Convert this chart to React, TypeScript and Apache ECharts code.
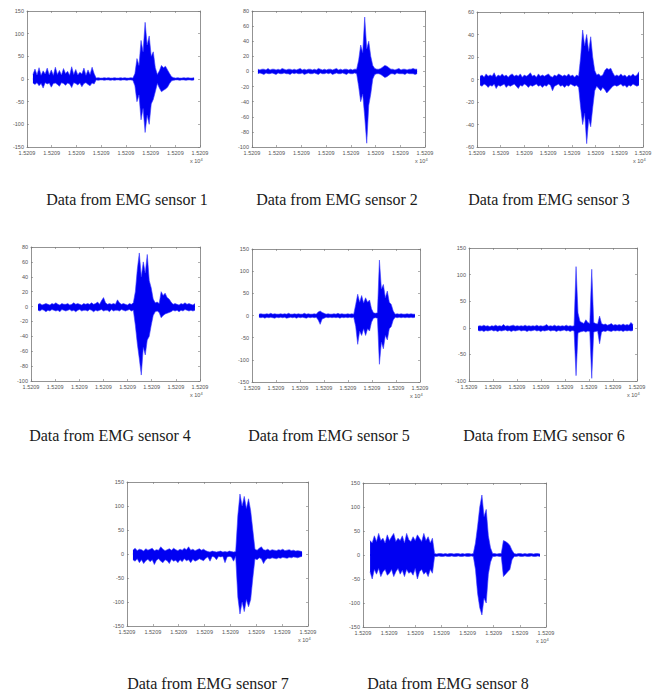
import React, { useEffect, useRef } from "react";
import * as echarts from "echarts";

const captions = [
  "Data from EMG sensor 1", "Data from EMG sensor 2", "Data from EMG sensor 3",
  "Data from EMG sensor 4", "Data from EMG sensor 5", "Data from EMG sensor 6",
  "Data from EMG sensor 7", "Data from EMG sensor 8",
];
const xTickLabel = "1.5209";
const yMin = [-150, -100, -60, -100, -150, -100, -150, -150];
const yMax = [150, 80, 60, 80, 150, 150, 150, 150];
const yStep = [50, 20, 20, 20, 50, 50, 50, 50];
const tStart = [0.24, 0.24, 0.13, 0.29, 0.29, 0.375, 0.23, 0.27];
const tEnd = [6.76, 6.68, 6.83, 6.79, 6.79, 6.83, 6.77, 6.77];

// upper / lower envelopes of each EMG signal
const hi1 = [10,22,9,25,8,18,11,24,9,20,8,26,10,19,9,23,12,17,8,27,10,21,9,15,11,24,8,20,10,26,12,
  2,3,2,2,3,2,3,2,2,3,2,2,3,2,3,2,2,3,2,
  12,45,30,85,60,125,75,95,50,60,25,10,
  18,30,25,28,20,12,5,
  3,2,3,2,2,3,2,3,2,2,3];
const lo1 = [-9,-12,-8,-15,-10,-20,-8,-11,-9,-18,-10,-9,-12,-16,-8,-10,-14,-9,-11,-19,-8,-10,-13,-9,-17,-10,-8,-12,-15,-9,-11,
  -2,-3,-2,-2,-3,-2,-2,-3,-2,-3,-2,-2,-3,-2,-2,-3,-2,-2,-3,
  -15,-50,-35,-90,-65,-118,-80,-100,-55,-45,-28,-10,
  -20,-28,-25,-22,-18,-10,-4,
  -3,-2,-2,-3,-2,-2,-3,-2,-2,-3,-2];

const hi2 = [3,2,3,3,2,4,2,3,3,2,3,2,4,3,2,3,3,2,3,2,3,4,2,3,2,3,3,2,3,2,4,3,2,3,2,3,3,2,3,4,2,3,2,3,3,2,3,2,3,3,
  15,35,25,72,30,40,20,8,
  4,3,3,4,
  6,8,7,5,
  3,3,2,3,4,2,3,3,2,3,3,4,3,3];
const lo2 = [-3,-2,-3,-4,-2,-3,-3,-2,-3,-4,-2,-3,-3,-2,-3,-3,-4,-2,-3,-2,-3,-3,-2,-4,-3,-2,-3,-3,-2,-3,-4,-2,-3,-3,-2,-3,-2,-4,-3,-2,-3,-3,-2,-3,-4,-2,-3,-3,-2,-3,
  -20,-40,-30,-60,-95,-45,-30,-10,
  -4,-3,-3,-4,
  -6,-8,-7,-5,
  -3,-3,-4,-2,-3,-3,-3,-4,-2,-3,-3,-3,-4,-3];

const hi3 = [3,4,2,5,3,4,3,6,2,4,3,5,3,4,2,4,5,3,4,3,5,2,4,3,4,6,3,4,2,5,3,4,3,4,5,3,2,4,3,5,4,3,4,3,5,3,4,2,4,3,
  20,44,30,40,25,38,20,8,
  4,5,3,4,
  8,10,9,10,6,
  3,4,3,5,3,4,2,4,3,5,3,4,7];
const lo3 = [-5,-6,-4,-5,-7,-5,-6,-4,-8,-5,-6,-5,-4,-7,-5,-6,-5,-4,-6,-8,-5,-6,-4,-5,-7,-5,-6,-5,-4,-6,-5,-7,-5,-6,-4,-5,-10,-6,-5,-4,-6,-5,-7,-5,-6,-4,-5,-6,-5,-7,
  -25,-40,-30,-57,-35,-42,-25,-10,
  -6,-8,-10,-7,
  -9,-12,-10,-8,-6,
  -5,-6,-5,-4,-6,-5,-7,-5,-6,-4,-5,-6,-5];

const hi4 = [3,4,2,3,4,3,2,4,3,5,3,2,4,3,3,4,2,3,5,3,4,3,2,4,3,4,3,5,3,4,6,3,8,12,5,3,4,3,4,3,9,5,3,4,3,2,4,3,5,
  20,50,72,40,60,45,70,35,25,10,
  5,6,4,
  20,15,18,12,10,6,
  3,4,3,2,4,3,5,3,4,3,2,4];
const lo4 = [-5,-6,-4,-5,-7,-5,-6,-4,-5,-6,-5,-7,-4,-5,-6,-5,-4,-6,-5,-7,-5,-4,-6,-5,-5,-6,-4,-5,-7,-5,-6,-5,-4,-6,-5,-5,-7,-4,-6,-5,-5,-6,-4,-5,-6,-5,-4,-6,-5,
  -25,-50,-70,-92,-55,-65,-45,-40,-25,-12,
  -7,-6,-8,
  -15,-12,-10,-9,-8,-7,
  -5,-6,-5,-7,-5,-6,-4,-5,-6,-5,-6,-5];

const hi5 = [3,4,3,3,4,3,5,3,4,3,3,4,3,4,3,5,3,3,4,3,4,3,3,5,3,4,3,3,4,3,
  8,10,7,5,
  3,4,3,3,4,3,5,3,4,3,3,4,3,4,3,
  25,48,30,45,28,40,30,35,15,
  6,5,6,
  125,60,70,40,55,30,25,10,
  3,4,3,4,3,3,4,3,4,3,3];
const lo5 = [-4,-5,-4,-6,-4,-5,-4,-5,-6,-4,-5,-4,-5,-4,-6,-5,-4,-5,-4,-6,-4,-5,-4,-5,-6,-4,-5,-4,-5,-4,
  -10,-20,-8,-6,
  -4,-5,-4,-5,-4,-5,-4,-6,-4,-5,-4,-5,-4,-5,-4,
  -25,-65,-35,-45,-30,-45,-30,-35,-15,
  -6,-5,-6,
  -110,-60,-75,-45,-55,-30,-25,-10,
  -4,-5,-4,-5,-4,-5,-4,-5,-4,-5,-4];

const hi6 = [3,4,3,5,3,4,2,4,3,5,3,4,3,6,3,4,3,4,5,3,4,3,4,3,5,3,4,3,4,3,5,3,4,3,4,6,3,4,3,5,3,4,3,4,3,5,3,4,3,4,
  115,
  28,12,10,8,15,10,8,
  110,
  10,8,7,22,8,6,7,5,6,8,5,6,5,6,5,7,5,6,5,10,6];
const lo6 = [-5,-6,-5,-7,-5,-6,-5,-4,-6,-5,-7,-5,-6,-5,-4,-6,-5,-7,-5,-6,-5,-4,-6,-5,-5,-7,-5,-6,-5,-4,-6,-5,-7,-5,-6,-5,-4,-6,-5,-5,-7,-5,-6,-5,-4,-6,-5,-7,-5,-6,
  -90,
  -10,-8,-7,-6,-8,-6,-7,
  -95,
  -8,-7,-6,-30,-8,-6,-7,-5,-6,-7,-5,-6,-5,-6,-5,-7,-5,-6,-5,-6,-5];

const hi7 = [8,12,7,10,9,6,11,8,10,12,7,9,8,15,10,7,9,11,8,12,9,7,10,8,12,9,15,8,10,7,9,11,8,10,7,
  5,4,6,5,4,5,6,4,5,4,6,5,4,5,
  80,125,100,120,95,115,90,50,
  10,8,12,15,9,8,10,7,9,8,7,9,8,10,7,8,9,7,8,6,7,6,5];
const lo7 = [-12,-15,-10,-18,-12,-20,-14,-11,-16,-12,-22,-13,-10,-15,-18,-12,-14,-20,-11,-15,-13,-18,-12,-16,-10,-14,-12,-18,-11,-15,-13,-10,-12,-14,-9,
  -6,-15,-5,-6,-12,-5,-6,-5,-18,-6,-5,-6,-15,-5,
  -90,-125,-100,-120,-95,-110,-95,-50,
  -10,-12,-8,-10,-20,-12,-9,-10,-8,-9,-10,-8,-9,-7,-8,-9,-7,-8,-6,-7,-8,-6,-5];

const hi8 = [30,25,40,28,45,30,35,25,42,30,38,45,28,35,30,40,25,45,32,28,38,30,42,35,28,45,30,38,25,35,
  3,2,3,3,2,3,2,3,3,2,3,3,2,3,2,3,3,2,3,
  25,60,100,125,80,95,40,15,
  3,3,2,3,3,
  30,28,25,20,10,
  3,2,3,3,2,3,2,3,3,2,3,3,2];
const lo8 = [-35,-50,-30,-40,-28,-45,-35,-30,-42,-38,-30,-45,-35,-28,-40,-32,-45,-30,-38,-35,-42,-28,-50,-35,-30,-40,-35,-45,-30,-38,
  -3,-3,-2,-3,-3,-2,-3,-3,-2,-3,-3,-2,-3,-3,-2,-3,-3,-2,-3,
  -30,-80,-110,-125,-90,-100,-40,-15,
  -3,-3,-2,-3,-3,
  -45,-40,-35,-30,-10,
  -3,-3,-2,-3,-3,-2,-3,-3,-2,-3,-3,-2,-3];

const highs = [hi1, hi2, hi3, hi4, hi5, hi6, hi7, hi8];
const lows = [lo1, lo2, lo3, lo4, lo5, lo6, lo7, lo8];

// layout (pixels)
const grids = [
  { left: 27, top: 11, width: 173, height: 136 },
  { left: 252, top: 11, width: 173, height: 136 },
  { left: 477, top: 12, width: 166, height: 135 },
  { left: 31, top: 247, width: 169, height: 134 },
  { left: 252, top: 249, width: 168, height: 133 },
  { left: 469, top: 248, width: 168, height: 133 },
  { left: 127, top: 482, width: 181, height: 144 },
  { left: 363, top: 483, width: 183, height: 144 },
];
const captionPos = [
  [127, 199], [337, 199], [549, 199],
  [110, 435], [329, 435], [544, 435],
  [208, 683], [448, 683],
];

export default function App() {
  const ref = useRef<HTMLDivElement>(null);
  useEffect(() => {
    document.body.style.margin = "0";
    const chart = echarts.init(ref.current!, null, { renderer: "svg" });
    const tickStyle = { fontSize: 5.5, color: "#555", fontFamily: "Arial, Liberation Sans, sans-serif" };
    const axLine = { show: true, onZero: false, lineStyle: { color: "#777", width: 0.8 } };
    const axTick = { show: true, inside: true, length: 2, lineStyle: { color: "#777", width: 0.6 } };
    const xAxis: any[] = [];
    const yAxis: any[] = [];
    const series: any[] = [];
    const graphic: any[] = [];
    grids.forEach((g, k) => {
      xAxis.push({
        gridIndex: k, type: "value", min: 0, max: 7, interval: 1, position: "bottom",
        axisLine: axLine, axisTick: axTick,
        axisLabel: { ...tickStyle, margin: 3, formatter: () => xTickLabel, showMinLabel: true, showMaxLabel: true },
        splitLine: { show: false },
      });
      xAxis.push({
        gridIndex: k, type: "value", min: 0, max: 7, interval: 1, position: "top",
        axisLine: axLine, axisTick: axTick, axisLabel: { show: false }, splitLine: { show: false },
      });
      yAxis.push({
        gridIndex: k, type: "value", min: yMin[k], max: yMax[k], interval: yStep[k], position: "left",
        axisLine: axLine, axisTick: axTick, axisLabel: { ...tickStyle, margin: 3 }, splitLine: { show: false },
      });
      yAxis.push({
        gridIndex: k, type: "value", min: yMin[k], max: yMax[k], interval: yStep[k], position: "right",
        axisLine: axLine, axisTick: axTick, axisLabel: { show: false }, splitLine: { show: false },
      });
      const overlap = yStep[k] / 25;
      [highs[k], lows[k]].forEach((vals, side) => {
        const n = vals.length;
        const data = vals.map((v, i) => [tStart[k] + (i * (tEnd[k] - tStart[k])) / (n - 1), v]);
        series.push({
          type: "line", xAxisIndex: 2 * k, yAxisIndex: 2 * k, data,
          symbol: "none", silent: true,
          lineStyle: { color: "#3b3bff", width: 0.6 },
          areaStyle: { color: "#0000f2", opacity: 1, origin: side === 0 ? -overlap : overlap },
        });
      });
      graphic.push({
        type: "text", x: g.left + g.width - 10, y: g.top + g.height + 10,
        style: {
          text: "x 10{s|4}", fontSize: 5.5, fill: "#555", fontFamily: "Arial, sans-serif",
          verticalAlign: "top",
          rich: { s: { fontSize: 4, verticalAlign: "top", padding: [0, 0, 3, 0] } },
        },
      });
      graphic.push({
        type: "text", x: captionPos[k][0], y: captionPos[k][1],
        style: {
          text: captions[k], fontSize: 16, fill: "#1a1a1a",
          fontFamily: "'Liberation Serif', 'Times New Roman', serif",
          align: "center", verticalAlign: "middle",
        },
      });
    });
    chart.setOption({
      animation: false,
      backgroundColor: "#fff",
      grid: grids.map((g) => ({ ...g, containLabel: false })),
      xAxis, yAxis, series, graphic,
    });
    return () => chart.dispose();
  }, []);
  return <div ref={ref} style={{ width: 656, height: 690 }} />;
}
